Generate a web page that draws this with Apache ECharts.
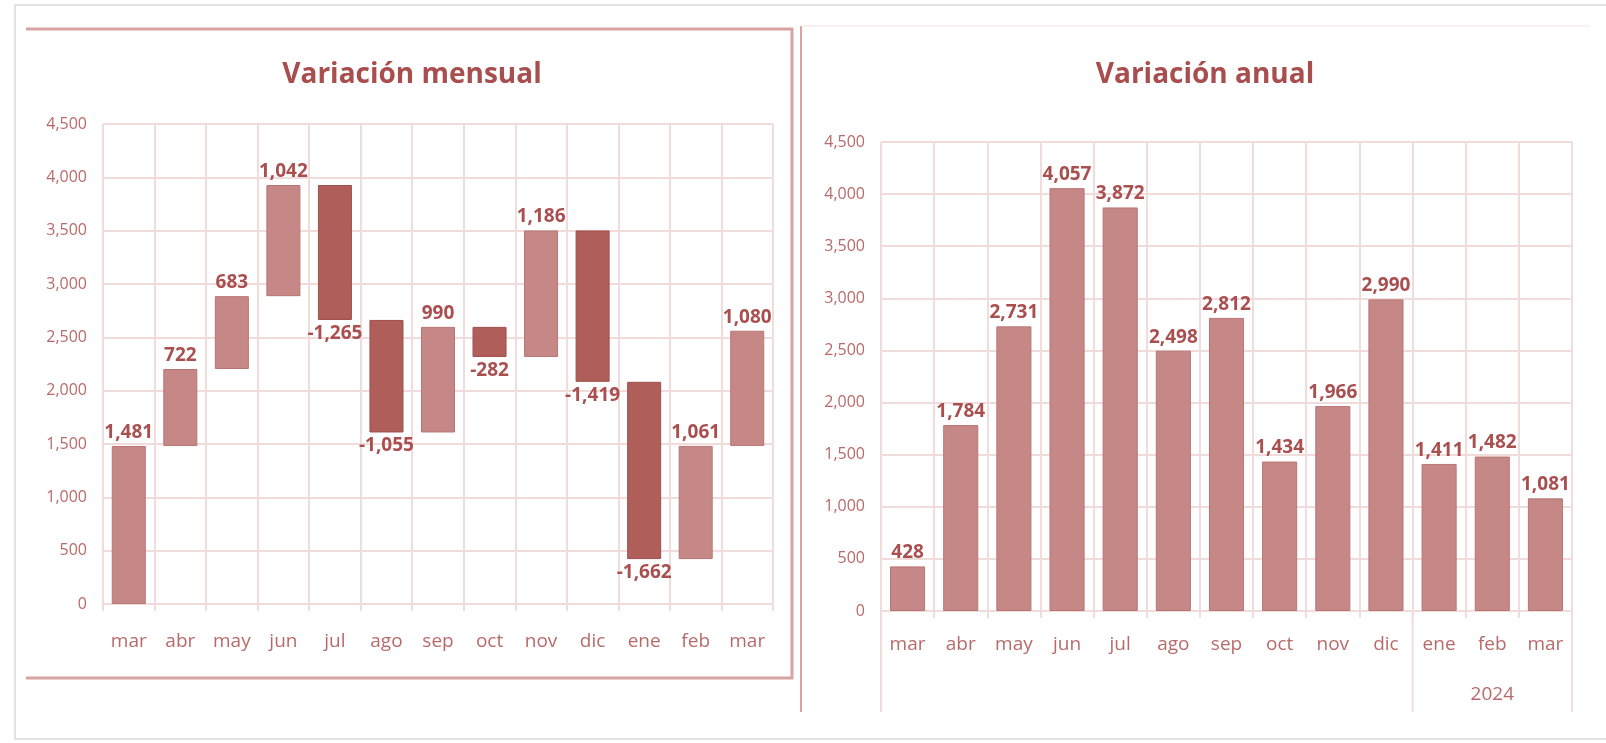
<!DOCTYPE html>
<html>
<head>
<meta charset="utf-8">
<title>Variación mensual y anual</title>
<script src="https://cdn.jsdelivr.net/npm/echarts@6/dist/echarts.min.js"></script>
<style>
  html, body { margin: 0; padding: 0; background: #fff; }
  #chart { width: 1606px; height: 743px; }
</style>
</head>
<body>
<div id="chart"></div>
<script>
// ---------------- datos ----------------
var meses = ['mar', 'abr', 'may', 'jun', 'jul', 'ago', 'sep', 'oct', 'nov', 'dic', 'ene', 'feb', 'mar'];
// variación mensual (cascada): primer valor es el nivel inicial
var varMensual = [1481, 722, 683, 1042, -1265, -1055, 990, -282, 1186, -1419, -1662, 1061, 1080];
// variación anual
var varAnual = [428, 1784, 2731, 4057, 3872, 2498, 2812, 1434, 1966, 2990, 1411, 1482, 1081];
// etiqueta del año bajo ene-feb-mar
var anios = ['', '', '', '', '', '', '', '', '', '', '', '2024', ''];
var ticksY = { min: 0, max: 4500, interval: 500 };

// ---------------- colores ----------------
var cClaro = '#c58886';
var cOscuro = '#b05e5a';
var cTexto = '#a94f4f';
var cEje = '#b86a6a';
var cGrid = '#f1dcdc';
var fuente = '"Open Sans", "Noto Sans", sans-serif';

var fmt = function (v) { return Number(v).toLocaleString('en-US'); };

// base invisible + barra visible para la cascada
var base = [], barra = [];
var acum = 0;
for (var i = 0; i < varMensual.length; i++) {
  var ini = acum;
  acum += varMensual[i];
  var pos = varMensual[i] >= 0;
  base.push(Math.min(ini, acum));
  barra.push({
    value: Math.abs(varMensual[i]),
    itemStyle: { color: pos ? cClaro : cOscuro, borderColor: pos ? '#b97474' : '#9e4e4a' },
    label: { position: pos ? 'top' : 'bottom', formatter: fmt(varMensual[i]) }
  });
}

var ejeY = function (g) {
  return {
    type: 'value', gridIndex: g, min: ticksY.min, max: ticksY.max, interval: ticksY.interval,
    axisLine: { show: false }, axisTick: { show: false },
    axisLabel: { color: cEje, fontSize: 16, fontFamily: fuente, margin: 16, formatter: fmt },
    splitLine: { lineStyle: { color: cGrid, width: 2 } }
  };
};
var ejeX = function (g, margin) {
  return {
    type: 'category', gridIndex: g, data: meses,
    axisLine: { lineStyle: { color: cGrid, width: 2 } },
    axisTick: { show: true, length: 7, lineStyle: { color: cGrid, width: 2 } },
    axisLabel: { color: cEje, fontSize: 19, fontFamily: fuente, margin: margin, interval: 0 },
    splitLine: { show: true, interval: 0, lineStyle: { color: cGrid, width: 2 } }
  };
};
var etiqueta = { show: true, color: cTexto, fontSize: 19, fontWeight: 'bold', fontFamily: fuente, distance: 4 };

var myChart = echarts.init(document.getElementById('chart'));

var option = {
  animation: false,
  backgroundColor: '#fff',
  title: [
    { text: 'Variación mensual', left: 407, top: 56, textAlign: 'center',
      textStyle: { color: '#a84e4e', fontSize: 28, fontWeight: 'bold', fontFamily: fuente } },
    { text: 'Variación anual', left: 1200, top: 56, textAlign: 'center',
      textStyle: { color: '#a84e4e', fontSize: 28, fontWeight: 'bold', fontFamily: fuente } }
  ],
  grid: [
    { left: 103, top: 124, width: 670, height: 480 },
    { left: 881, top: 142, width: 691, height: 469 }
  ],
  xAxis: [
    ejeX(0, 28),
    ejeX(1, 24),
    {
      type: 'category', gridIndex: 1, data: anios, position: 'bottom',
      axisLine: { show: false }, axisTick: { show: false }, splitLine: { show: false },
      axisLabel: { color: cEje, fontSize: 19, fontFamily: fuente, margin: 74, interval: 0 }
    }
  ],
  yAxis: [ejeY(0), ejeY(1)],
  series: [
    { name: 'base', type: 'bar', stack: 'cascada', xAxisIndex: 0, yAxisIndex: 0,
      data: base, barWidth: '66%', itemStyle: { color: 'transparent' }, silent: true },
    { name: 'Variación mensual', type: 'bar', stack: 'cascada', xAxisIndex: 0, yAxisIndex: 0,
      data: barra, barWidth: '66%', itemStyle: { borderWidth: 1 }, label: etiqueta },
    { name: 'Variación anual', type: 'bar', xAxisIndex: 1, yAxisIndex: 1,
      data: varAnual, barWidth: '66%',
      itemStyle: { color: cClaro, borderColor: '#b97474', borderWidth: 1 },
      label: Object.assign({}, etiqueta, { position: 'top', formatter: function (p) { return fmt(p.value); } }) }
  ]
};
myChart.setOption(option);

// marcos y separadores del grupo 2024 (posiciones a partir de la escala)
var c0 = myChart.convertToPixel({ xAxisIndex: 1 }, 0);
var c1 = myChart.convertToPixel({ xAxisIndex: 1 }, 1);
var banda = c1 - c0;
var yBase = myChart.convertToPixel({ yAxisIndex: 1 }, 0);
var xs = [c0 - banda / 2, myChart.convertToPixel({ xAxisIndex: 1 }, 10) - banda / 2, myChart.convertToPixel({ xAxisIndex: 1 }, 12) + banda / 2];
var graficos = [
  // borde exterior gris
  { type: 'rect', shape: { x: 15, y: 5, width: 1600, height: 734 }, style: { fill: 'none', stroke: '#e2e2e2', lineWidth: 2 }, silent: true },
  // marco del gráfico mensual
  { type: 'polyline', shape: { points: [[26, 29], [792, 29], [792, 678], [26, 678]] }, style: { fill: 'none', stroke: '#d9a3a3', lineWidth: 3 }, silent: true },
  // marco del gráfico anual
  { type: 'line', shape: { x1: 801, y1: 26, x2: 801, y2: 712 }, style: { stroke: '#d9a3a3', lineWidth: 2 }, silent: true },
  { type: 'line', shape: { x1: 801, y1: 26, x2: 1590, y2: 26 }, style: { stroke: '#f3e3e3', lineWidth: 1 }, silent: true }
];
xs.forEach(function (x) {
  graficos.push({ type: 'line', shape: { x1: x, y1: yBase, x2: x, y2: 712 }, style: { stroke: cGrid, lineWidth: 2 }, silent: true });
});
myChart.setOption({ graphic: graficos });
</script>
</body>
</html>
